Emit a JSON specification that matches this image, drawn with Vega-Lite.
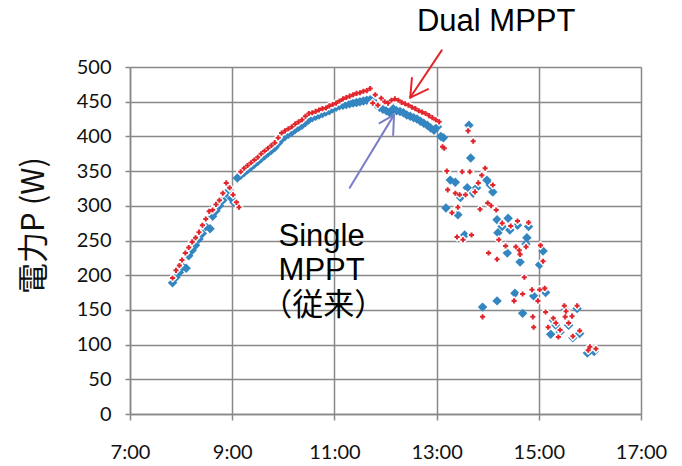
{
  "$schema": "https://vega.github.io/schema/vega-lite/v6.json",
  "autosize": {"type": "none"},
  "width": 511,
  "height": 347,
  "padding": {"left": 130, "top": 67, "right": 41, "bottom": 52},
  "background": "white",
  "config": {"view": {"stroke": null}},
  "encoding": {
    "x": {
      "field": "t", "type": "temporal",
      "scale": {"domain": [{"year": 1900, "month": 1, "date": 1, "hours": 7}, {"year": 1900, "month": 1, "date": 1, "hours": 17}]},
      "axis": {
        "title": null, "format": "%-H:%M",
        "values": [
          {"year": 1900, "month": 1, "date": 1, "hours": 7},
          {"year": 1900, "month": 1, "date": 1, "hours": 9},
          {"year": 1900, "month": 1, "date": 1, "hours": 11},
          {"year": 1900, "month": 1, "date": 1, "hours": 13},
          {"year": 1900, "month": 1, "date": 1, "hours": 15},
          {"year": 1900, "month": 1, "date": 1, "hours": 17}
        ],
        "grid": true, "gridColor": "#888888", "gridWidth": 1.5,
        "domainColor": "#888888", "domainWidth": 1.5,
        "tickColor": "#888888", "tickWidth": 1.5, "tickSize": 6,
        "labelFont": "Lato", "labelFontSize": 20, "labelColor": "#111111",
        "labelPadding": 22, "labelFlush": false, "labelOverlap": false
      }
    },
    "y": {
      "field": "v", "type": "quantitative",
      "scale": {"domain": [0, 500], "nice": false},
      "axis": {
        "title": "電力P (W)", "titleFont": "Noto Sans CJK JP", "titleFontSize": 31,
        "titleFontWeight": "normal", "titleColor": "#111111",
        "titleX": -96, "titleY": 158, "titleBaseline": "middle", "titleAngle": -90,
        "values": [0, 50, 100, 150, 200, 250, 300, 350, 400, 450, 500],
        "grid": true, "gridColor": "#888888", "gridWidth": 1.5,
        "domainColor": "#888888", "domainWidth": 1.5,
        "tickColor": "#888888", "tickWidth": 1.5, "tickSize": 5,
        "labelFont": "Lato", "labelFontSize": 20, "labelColor": "#111111",
        "labelPadding": 14, "labelFlush": false, "labelOverlap": false
      }
    }
  },
  "layer": [
    {
      "data": {
        "format": {"parse": {"t": "date:'%H:%M'"}},
        "values": [
          {"t": "07:50", "v": 189}, {"t": "07:54", "v": 197}, {"t": "07:58", "v": 204}, {"t": "08:02", "v": 212},
          {"t": "08:06", "v": 210}, {"t": "08:09", "v": 228}, {"t": "08:13", "v": 236}, {"t": "08:17", "v": 243},
          {"t": "08:21", "v": 252}, {"t": "08:25", "v": 260}, {"t": "08:29", "v": 270}, {"t": "08:34", "v": 267},
          {"t": "08:37", "v": 285}, {"t": "08:41", "v": 293}, {"t": "08:45", "v": 300}, {"t": "08:49", "v": 308},
          {"t": "08:53", "v": 318}, {"t": "08:57", "v": 322}, {"t": "08:59", "v": 311}, {"t": "09:02", "v": 305},
          {"t": "09:06", "v": 340}, {"t": "09:10", "v": 344}, {"t": "09:14", "v": 348}, {"t": "09:18", "v": 352},
          {"t": "09:22", "v": 356}, {"t": "09:26", "v": 360}, {"t": "09:30", "v": 364}, {"t": "09:34", "v": 368},
          {"t": "09:38", "v": 372}, {"t": "09:42", "v": 376}, {"t": "09:46", "v": 380}, {"t": "09:50", "v": 384},
          {"t": "09:54", "v": 390}, {"t": "09:58", "v": 396}, {"t": "10:02", "v": 400}, {"t": "10:06", "v": 403},
          {"t": "10:10", "v": 406}, {"t": "10:14", "v": 410}, {"t": "10:18", "v": 413}, {"t": "10:22", "v": 416},
          {"t": "10:26", "v": 420}, {"t": "10:30", "v": 424}, {"t": "10:34", "v": 427}, {"t": "10:38", "v": 429},
          {"t": "10:42", "v": 431}, {"t": "10:46", "v": 433}, {"t": "10:50", "v": 435}, {"t": "10:54", "v": 437},
          {"t": "10:58", "v": 440}, {"t": "11:02", "v": 442}, {"t": "11:06", "v": 444}, {"t": "11:10", "v": 445},
          {"t": "11:14", "v": 446}, {"t": "11:18", "v": 447}, {"t": "11:22", "v": 448}, {"t": "11:26", "v": 449},
          {"t": "11:30", "v": 450}, {"t": "11:34", "v": 451}, {"t": "11:38", "v": 452}, {"t": "11:42", "v": 453},
          {"t": "11:45", "v": 452}, {"t": "11:49", "v": 446}, {"t": "11:53", "v": 442}, {"t": "11:57", "v": 439},
          {"t": "12:01", "v": 437}, {"t": "12:05", "v": 434}, {"t": "12:09", "v": 440}, {"t": "12:13", "v": 437},
          {"t": "12:17", "v": 436}, {"t": "12:21", "v": 434}, {"t": "12:25", "v": 431}, {"t": "12:29", "v": 429},
          {"t": "12:33", "v": 427}, {"t": "12:37", "v": 425}, {"t": "12:41", "v": 422}, {"t": "12:45", "v": 419},
          {"t": "12:49", "v": 416}, {"t": "12:53", "v": 412}, {"t": "12:57", "v": 409}, {"t": "13:01", "v": 414},
          {"t": "13:05", "v": 400}, {"t": "13:08", "v": 398},
          {"t": "13:11", "v": 297}, {"t": "13:16", "v": 337}, {"t": "13:22", "v": 334}, {"t": "13:25", "v": 287},
          {"t": "13:28", "v": 312}, {"t": "13:33", "v": 258}, {"t": "13:36", "v": 326}, {"t": "13:38", "v": 416},
          {"t": "13:40", "v": 369}, {"t": "13:43", "v": 318}, {"t": "13:47", "v": 326}, {"t": "13:54", "v": 154},
          {"t": "13:59", "v": 337}, {"t": "14:03", "v": 330}, {"t": "14:06", "v": 320}, {"t": "14:11", "v": 163},
          {"t": "14:11", "v": 280}, {"t": "14:12", "v": 261}, {"t": "14:17", "v": 270}, {"t": "14:23", "v": 232},
          {"t": "14:24", "v": 282}, {"t": "14:26", "v": 265}, {"t": "14:32", "v": 174}, {"t": "14:35", "v": 272},
          {"t": "14:38", "v": 219}, {"t": "14:41", "v": 145}, {"t": "14:45", "v": 245}, {"t": "14:46", "v": 254},
          {"t": "14:48", "v": 270}, {"t": "14:54", "v": 170}, {"t": "15:01", "v": 215}, {"t": "15:05", "v": 235},
          {"t": "15:08", "v": 175}, {"t": "15:14", "v": 115}, {"t": "15:17", "v": 135}, {"t": "15:20", "v": 128},
          {"t": "15:25", "v": 118}, {"t": "15:31", "v": 150}, {"t": "15:35", "v": 128}, {"t": "15:40", "v": 110},
          {"t": "15:45", "v": 152}, {"t": "15:48", "v": 116}, {"t": "15:57", "v": 88}, {"t": "16:00", "v": 92},
          {"t": "16:05", "v": 90}
        ]
      },
      "mark": {"type": "point", "shape": "diamond", "filled": true, "size": 90, "color": "#3486C1", "opacity": 1}
    },
    {
      "data": {
        "format": {"parse": {"t": "date:'%H:%M'"}},
        "values": [
          {"t": "07:50", "v": 196}, {"t": "07:54", "v": 207}, {"t": "07:58", "v": 214}, {"t": "08:01", "v": 222},
          {"t": "08:05", "v": 232}, {"t": "08:09", "v": 240}, {"t": "08:13", "v": 248}, {"t": "08:17", "v": 254},
          {"t": "08:21", "v": 262}, {"t": "08:25", "v": 272}, {"t": "08:29", "v": 281}, {"t": "08:33", "v": 292},
          {"t": "08:37", "v": 294}, {"t": "08:41", "v": 302}, {"t": "08:45", "v": 308}, {"t": "08:49", "v": 318},
          {"t": "08:53", "v": 333}, {"t": "08:57", "v": 326}, {"t": "09:01", "v": 316}, {"t": "09:05", "v": 305},
          {"t": "09:08", "v": 298}, {"t": "09:10", "v": 349}, {"t": "09:14", "v": 354}, {"t": "09:18", "v": 358},
          {"t": "09:22", "v": 362}, {"t": "09:26", "v": 366}, {"t": "09:30", "v": 370}, {"t": "09:34", "v": 375},
          {"t": "09:38", "v": 379}, {"t": "09:42", "v": 383}, {"t": "09:46", "v": 387}, {"t": "09:50", "v": 391},
          {"t": "09:54", "v": 398}, {"t": "09:58", "v": 405}, {"t": "10:02", "v": 408}, {"t": "10:06", "v": 411},
          {"t": "10:10", "v": 414}, {"t": "10:14", "v": 418}, {"t": "10:18", "v": 421}, {"t": "10:22", "v": 424},
          {"t": "10:26", "v": 429}, {"t": "10:30", "v": 433}, {"t": "10:34", "v": 434}, {"t": "10:38", "v": 436},
          {"t": "10:42", "v": 438}, {"t": "10:46", "v": 440}, {"t": "10:50", "v": 441}, {"t": "10:54", "v": 444},
          {"t": "10:58", "v": 446}, {"t": "11:02", "v": 448}, {"t": "11:06", "v": 451}, {"t": "11:10", "v": 454},
          {"t": "11:14", "v": 456}, {"t": "11:18", "v": 458}, {"t": "11:22", "v": 460}, {"t": "11:26", "v": 462},
          {"t": "11:30", "v": 463}, {"t": "11:34", "v": 465}, {"t": "11:38", "v": 466}, {"t": "11:42", "v": 469},
          {"t": "11:45", "v": 448}, {"t": "11:48", "v": 460}, {"t": "11:51", "v": 445}, {"t": "11:55", "v": 455},
          {"t": "11:59", "v": 450}, {"t": "12:03", "v": 448}, {"t": "12:07", "v": 452}, {"t": "12:11", "v": 454},
          {"t": "12:15", "v": 452}, {"t": "12:19", "v": 449}, {"t": "12:23", "v": 447}, {"t": "12:27", "v": 445},
          {"t": "12:31", "v": 442}, {"t": "12:35", "v": 440}, {"t": "12:39", "v": 437}, {"t": "12:43", "v": 435},
          {"t": "12:47", "v": 433}, {"t": "12:51", "v": 430}, {"t": "12:55", "v": 427}, {"t": "12:59", "v": 424},
          {"t": "13:03", "v": 421}, {"t": "13:07", "v": 385},
          {"t": "13:09", "v": 383}, {"t": "13:12", "v": 350}, {"t": "13:13", "v": 323}, {"t": "13:18", "v": 290},
          {"t": "13:22", "v": 318}, {"t": "13:24", "v": 255}, {"t": "13:25", "v": 298}, {"t": "13:27", "v": 316},
          {"t": "13:30", "v": 349}, {"t": "13:31", "v": 251}, {"t": "13:34", "v": 316}, {"t": "13:37", "v": 408},
          {"t": "13:39", "v": 349}, {"t": "13:41", "v": 258}, {"t": "13:43", "v": 393}, {"t": "13:45", "v": 320},
          {"t": "13:49", "v": 333}, {"t": "13:51", "v": 295}, {"t": "13:53", "v": 344}, {"t": "13:54", "v": 140},
          {"t": "13:57", "v": 354}, {"t": "14:00", "v": 304}, {"t": "14:01", "v": 232}, {"t": "14:04", "v": 300},
          {"t": "14:06", "v": 330}, {"t": "14:10", "v": 294}, {"t": "14:11", "v": 223}, {"t": "14:13", "v": 251},
          {"t": "14:17", "v": 275}, {"t": "14:21", "v": 242}, {"t": "14:27", "v": 271}, {"t": "14:31", "v": 163},
          {"t": "14:33", "v": 241}, {"t": "14:35", "v": 278}, {"t": "14:37", "v": 236}, {"t": "14:38", "v": 230},
          {"t": "14:41", "v": 173}, {"t": "14:43", "v": 197}, {"t": "14:45", "v": 241}, {"t": "14:48", "v": 276},
          {"t": "14:52", "v": 179}, {"t": "14:53", "v": 140}, {"t": "14:54", "v": 125}, {"t": "14:59", "v": 163},
          {"t": "15:01", "v": 179}, {"t": "15:02", "v": 243}, {"t": "15:05", "v": 220}, {"t": "15:07", "v": 181},
          {"t": "15:08", "v": 147}, {"t": "15:11", "v": 125}, {"t": "15:17", "v": 138}, {"t": "15:20", "v": 131},
          {"t": "15:23", "v": 111}, {"t": "15:25", "v": 121}, {"t": "15:30", "v": 156}, {"t": "15:31", "v": 140},
          {"t": "15:32", "v": 148}, {"t": "15:35", "v": 131}, {"t": "15:39", "v": 141}, {"t": "15:40", "v": 112},
          {"t": "15:45", "v": 156}, {"t": "15:48", "v": 120}, {"t": "15:58", "v": 92}, {"t": "16:00", "v": 97},
          {"t": "16:07", "v": 94}
        ]
      },
      "layer": [
        {"mark": {"type": "point", "shape": "diamond", "filled": true, "size": 95, "color": "#FFFFFF", "opacity": 1}},
        {"mark": {"type": "point", "shape": "cross", "filled": true, "size": 26, "color": "#E0262C", "opacity": 1}}
      ]
    },
    {
      "data": {
        "format": {"parse": {"t": "date:'%H:%M'", "t2": "date:'%H:%M'"}},
        "values": [
          {"t": "13:06", "v": 524, "t2": "12:29", "v2": 456, "c": "#E3262A"},
          {"t": "12:29", "v": 456, "t2": "12:31", "v2": 484, "c": "#E3262A"},
          {"t": "12:29", "v": 456, "t2": "12:50", "v2": 468, "c": "#E3262A"},
          {"t": "11:18", "v": 326, "t2": "12:10", "v2": 431, "c": "#7A7EC6"},
          {"t": "12:10", "v": 431, "t2": "11:53", "v2": 419, "c": "#7A7EC6"},
          {"t": "12:10", "v": 431, "t2": "12:09", "v2": 402, "c": "#7A7EC6"}
        ]
      },
      "mark": {"type": "rule", "strokeWidth": 2, "strokeCap": "round"},
      "encoding": {
        "x2": {"field": "t2"},
        "y2": {"field": "v2"},
        "color": {"field": "c", "type": "nominal", "scale": null}
      }
    },
    {
      "data": {
        "format": {"parse": {"t": "date:'%H:%M'"}},
        "values": [
          {"t": "14:10", "v": 565, "label": "Dual MPPT"},
          {"t": "10:45", "v": 255, "label": "Single"},
          {"t": "10:45", "v": 206, "label": "MPPT"},
          {"t": "10:47", "v": 156, "label": "（従来）"}
        ]
      },
      "mark": {"type": "text", "font": "Liberation Sans, Noto Sans CJK JP", "fontSize": 31, "color": "#000000", "align": "center", "baseline": "middle"},
      "encoding": {"text": {"field": "label"}}
    }
  ]
}
